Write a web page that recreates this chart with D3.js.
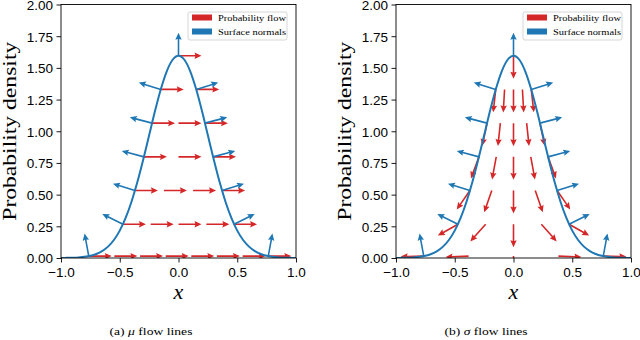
<!DOCTYPE html>
<html>
<head>
<meta charset="utf-8">
<script src="https://cdn.jsdelivr.net/npm/d3@7"></script>
<style>
body { margin: 0; background: #fff; }
</style>
</head>
<body>
<script>
var svgWidth = 640;
var svgHeight = 340;

var xTicks = [-1, -0.5, 0, 0.5, 1];
var yTicks = [0, 0.25, 0.5, 0.75, 1, 1.25, 1.5, 1.75, 2];

// density curve sampled every 0.05 from -1 to 1
var curveX = d3.range(41).map(function (i) { return -1 + i * 0.05; });
var curveY = [0.0005, 0.0012, 0.0024, 0.0049, 0.0095, 0.0177, 0.0317, 0.0543, 0.0896, 0.142,
    0.216, 0.316, 0.444, 0.599, 0.777, 0.968, 1.159, 1.333, 1.473, 1.564,
    1.596,
    1.564, 1.473, 1.333, 1.159, 0.968, 0.777, 0.599, 0.444, 0.316, 0.216,
    0.142, 0.0896, 0.0543, 0.0317, 0.0177, 0.0095, 0.0049, 0.0024, 0.0012, 0.0005];
var sigma = 0.25;

// arrow rows (height) and the arrow tails on each row
var rowY = [1.596, 1.330, 1.064, 0.798, 0.532, 0.266, 0.015];
var rowEdgeX = [0, 0.151, 0.225, 0.294, 0.371, 0.473, 0.764];
var muRowX = [
    [0],
    [-0.151, 0.151],
    [-0.225, 0, 0.225],
    [-0.294, 0, 0.294],
    [-0.371, -0.124, 0.124, 0.371],
    [-0.473, -0.237, 0, 0.237, 0.473],
    [-0.764, -0.546, -0.327, -0.109, 0.109, 0.327, 0.546, 0.764]
];
var sigmaRowX = [
    [0],
    [-0.151, -0.076, 0, 0.076, 0.151],
    [-0.225, -0.112, 0, 0.112, 0.225],
    [-0.294, -0.147, 0, 0.147, 0.294],
    [-0.371, -0.185, 0, 0.185, 0.371],
    [-0.473, -0.237, 0, 0.237, 0.473],
    [-0.764, -0.382, 0, 0.382, 0.764]
];

var legendLabels = ['Probability flow', 'Surface normals'];
var red = '#d62728';
var blue = '#1f77b4';

var panels = [
    {left: 61, rows: muRowX, letter: '(a) ', sym: '\u03bc',
        flow: function (x, y) { return [1, 0]; }},
    {left: 396, rows: sigmaRowX, letter: '(b) ', sym: '\u03c3',
        flow: function (x, y) { return [x, -y]; }}
];

var plotW = 235;
var plotTop = 4.5;
var plotBottom = 258;
var arrowLen = 23;

var svg = d3.select('body')
    .append('svg')
    .attr('width', svgWidth)
    .attr('height', svgHeight);

// quiver-like arrow, tail at (sx, sy), screen direction (dx, dy)
function arrowPath(sx, sy, dx, dy) {
    var n = Math.sqrt(dx * dx + dy * dy);
    if (!n) return '';
    var ux = dx / n, uy = dy / n;
    var px = -uy, py = ux;
    var w = 0.8, hw = 3.2, hl = 7, ha = 6.2, L = arrowLen;
    var pts = [[0, -w], [L - ha, -w], [L - hl, -hw], [L, 0], [L - hl, hw], [L - ha, w], [0, w]];
    return 'M' + pts.map(function (p) {
        return [sx + ux * p[0] + px * p[1], sy + uy * p[0] + py * p[1]].join(',');
    }).join('L') + 'Z';
}

panels.forEach(function (pan, pi) {
    var x = d3.scaleLinear().domain([-1, 1]).range([pan.left, pan.left + plotW]);
    var y = d3.scaleLinear().domain([0, 2]).range([plotBottom, plotTop]);

    var clipId = 'clip' + pi;
    svg.append('clipPath')
        .attr('id', clipId)
        .append('rect')
        .attr('x', pan.left)
        .attr('y', plotTop)
        .attr('width', plotW)
        .attr('height', plotBottom - plotTop);

    var plot = svg.append('g').attr('clip-path', 'url(#' + clipId + ')');

    // red flow arrows
    var flowData = [];
    pan.rows.forEach(function (xs, r) {
        xs.forEach(function (xv) {
            flowData.push([xv, rowY[r]]);
        });
    });
    plot.selectAll('path.flow')
        .data(flowData)
        .enter()
        .append('path')
        .attr('class', 'flow')
        .attr('fill', red)
        .attr('d', function (d) {
            var v = pan.flow(d[0], d[1]);
            return arrowPath(x(d[0]), y(d[1]), v[0], -v[1]);
        });

    // density curve
    var line = d3.line()
        .x(function (d, i) { return x(curveX[i]); })
        .y(function (d) { return y(d); })
        .curve(d3.curveMonotoneX);
    plot.append('path')
        .datum(curveY)
        .attr('fill', 'none')
        .attr('stroke', blue)
        .attr('stroke-width', 2)
        .attr('d', line);

    // surface normals at both ends of every row
    var normData = [];
    rowEdgeX.forEach(function (e, r) {
        if (e === 0) normData.push([0, rowY[r]]);
        else {
            normData.push([-e, rowY[r]]);
            normData.push([e, rowY[r]]);
        }
    });
    plot.selectAll('path.normal')
        .data(normData)
        .enter()
        .append('path')
        .attr('class', 'normal')
        .attr('fill', blue)
        .attr('d', function (d) {
            var slope = -d[0] * d[1] / (sigma * sigma);
            return arrowPath(x(d[0]), y(d[1]), -slope, -1);
        });

    // axes
    var xAxis = svg.append('g')
        .attr('transform', 'translate(0,' + plotBottom + ')')
        .call(d3.axisBottom(x).tickValues(xTicks).tickFormat(d3.format('.1f')).tickSize(4.5).tickPadding(5));
    var yAxis = svg.append('g')
        .attr('transform', 'translate(' + pan.left + ',0)')
        .call(d3.axisLeft(y).tickValues(yTicks).tickFormat(d3.format('.2f')).tickSize(4.5).tickPadding(3.5));
    [xAxis, yAxis].forEach(function (a) {
        a.select('.domain').remove();
        a.selectAll('text')
            .attr('font-family', 'Liberation Sans, Arial, sans-serif')
            .attr('font-size', 13.5)
            .attr('fill', '#000');
        a.selectAll('line').attr('stroke', '#000').attr('stroke-width', 0.9);
    });
    yAxis.selectAll('text').attr('dy', '0.36em');

    svg.append('rect')
        .attr('x', pan.left)
        .attr('y', plotTop)
        .attr('width', plotW)
        .attr('height', plotBottom - plotTop)
        .attr('fill', 'none')
        .attr('stroke', '#000')
        .attr('stroke-width', 0.9);

    // legend
    var lg = svg.append('g')
        .attr('transform', 'translate(' + (pan.left + plotW - 108) + ',' + 12 + ')');
    lg.append('rect')
        .attr('width', 99)
        .attr('height', 28)
        .attr('rx', 2)
        .attr('fill', '#fff')
        .attr('fill-opacity', 0.8)
        .attr('stroke', '#cccccc')
        .attr('stroke-width', 0.8);
    lg.selectAll('rect.key')
        .data(legendLabels)
        .enter()
        .append('rect')
        .attr('class', 'key')
        .attr('x', 4)
        .attr('y', function (d, i) { return 2.5 + i * 14; })
        .attr('width', 20)
        .attr('height', 6)
        .attr('fill', function (d, i) { return i ? blue : red; });
    lg.selectAll('text')
        .data(legendLabels)
        .enter()
        .append('text')
        .attr('x', 30)
        .attr('y', function (d, i) { return 8.5 + i * 14; })
        .attr('font-family', 'Liberation Serif, serif')
        .attr('font-size', 9)
        .attr('textLength', 68)
        .attr('lengthAdjust', 'spacingAndGlyphs')
        .text(function (d) { return d; });

    // axis labels
    var cy = (plotTop + plotBottom) / 2;
    svg.append('text')
        .attr('transform', 'translate(' + (pan.left - 45) + ',' + cy + ') rotate(-90)')
        .attr('text-anchor', 'middle')
        .attr('font-family', 'Liberation Serif, serif')
        .attr('font-size', 19)
        .attr('textLength', 179)
        .attr('lengthAdjust', 'spacingAndGlyphs')
        .text('Probability density');

    svg.append('text')
        .attr('x', x(0))
        .attr('y', 299)
        .attr('text-anchor', 'middle')
        .attr('font-family', 'Liberation Serif, serif')
        .attr('font-style', 'italic')
        .attr('font-size', 22)
        .text('x');

    var cap = svg.append('text')
        .attr('x', pan.left + 90)
        .attr('y', 335)
        .attr('text-anchor', 'middle')
        .attr('font-family', 'Liberation Serif, serif')
        .attr('font-size', 11)
        .attr('textLength', 83)
        .attr('lengthAdjust', 'spacingAndGlyphs');
    cap.append('tspan').text(pan.letter);
    cap.append('tspan').attr('font-style', 'italic').text(pan.sym);
    cap.append('tspan').text(' flow lines');
});
</script>
</body>
</html>
